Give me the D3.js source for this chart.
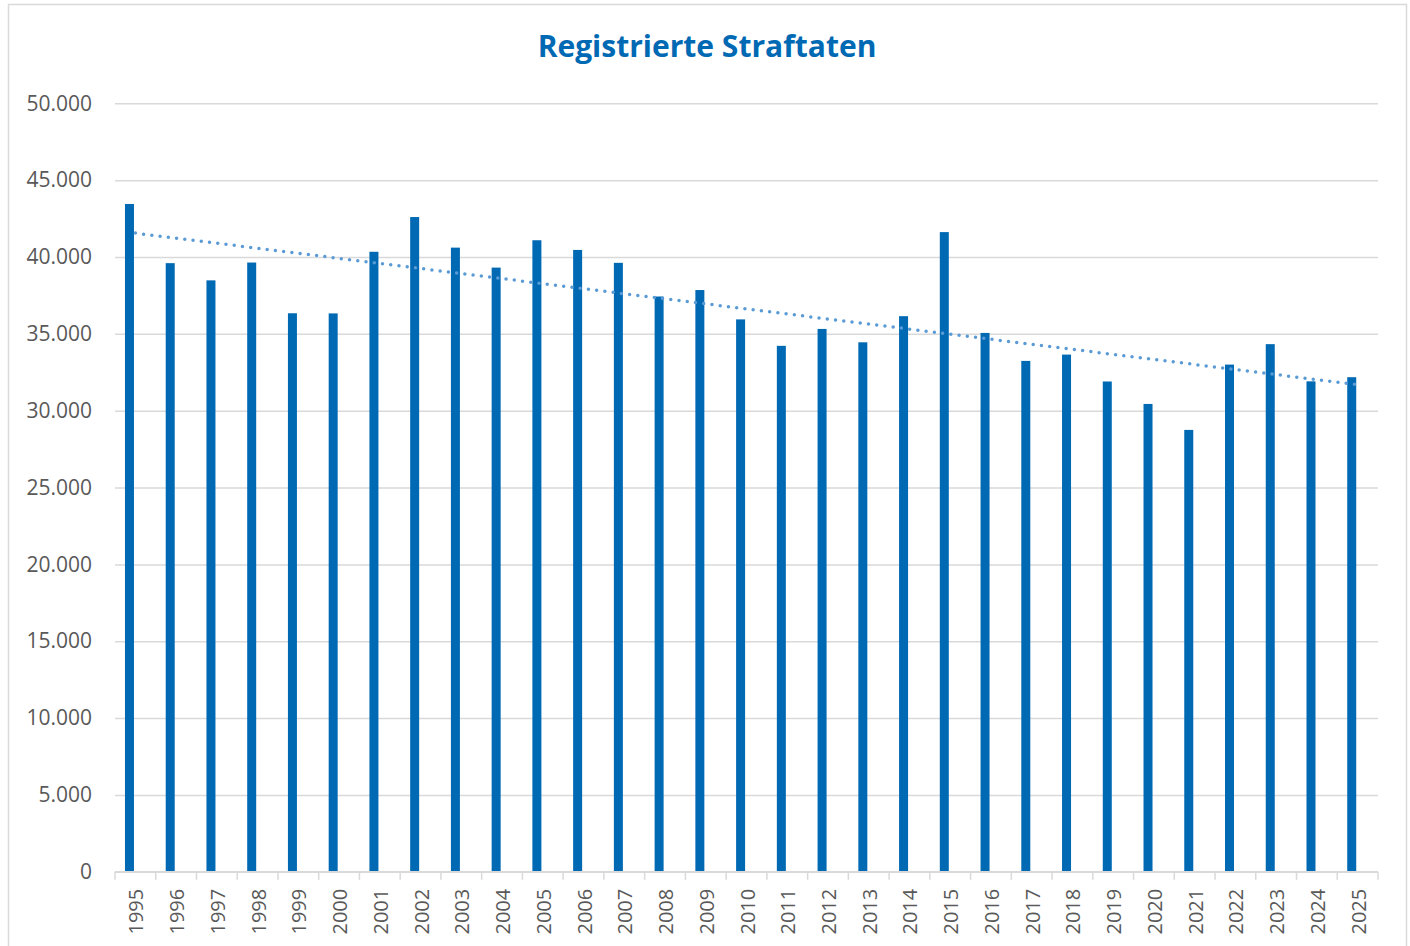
<!DOCTYPE html>
<html>
<head>
<meta charset="utf-8">
<script src="https://cdn.jsdelivr.net/npm/d3@7"></script>
<style>
  body { margin: 0; background: #fff; }
  svg { display: block; }
</style>
</head>
<body>
<figure style="margin:0"></figure>
<script>
const years = d3.range(1995, 2026).map(String);
const cases = [
  43450, 39600, 38480, 39640, 36340, 36330, 40340, 42600, 40610, 39310,
  41090, 40460, 39620, 37430, 37850, 35940, 34220, 35320, 34450, 36150,
  41620, 35060, 33240, 33650, 31900, 30440, 28750, 33000, 34330, 31910,
  32180,
];
const yTicks = [0, 5000, 10000, 15000, 20000, 25000, 30000, 35000, 40000, 45000, 50000];
const title = "Registrierte Straftaten";

const barColor = "#0069B4";
const trendColor = "#5B9BD5";
const gridColor = "#D9D9D9";
const labelColor = "#595959";

const de = d3.formatLocale({ decimal: ",", thousands: ".", grouping: [3], currency: ["", " €"] });
const fmt = de.format(",d");

const width = 1410;
const height = 946;
const margin = { top: 103.3, right: 32, bottom: 74.2, left: 115 };

const svg = d3
  .select("figure")
  .append("svg")
  .attr("width", width)
  .attr("height", height);

// chart frame
svg
  .append("rect")
  .attr("x", 8.5)
  .attr("y", 4.5)
  .attr("width", 1398)
  .attr("height", 960)
  .attr("fill", "#fff")
  .attr("stroke", gridColor)
  .attr("stroke-width", 1.5);

svg
  .append("text")
  .attr("x", 707)
  .attr("y", 57)
  .attr("text-anchor", "middle")
  .attr("font-family", "Open Sans")
  .attr("font-weight", "bold")
  .attr("font-size", 30)
  .attr("fill", barColor)
  .text(title);

const x = d3
  .scaleBand()
  .domain(years)
  .range([margin.left, width - margin.right]);

const y = d3
  .scaleLinear()
  .domain([0, 50000])
  .range([height - margin.bottom, margin.top]);

// gridlines + y labels
const yAxis = svg
  .append("g")
  .attr("transform", `translate(${margin.left},0)`)
  .call(
    d3
      .axisLeft(y)
      .tickValues(yTicks)
      .tickFormat(fmt)
      .tickSize(-(width - margin.left - margin.right))
      .tickPadding(23)
  );
yAxis.select(".domain").remove();
yAxis.selectAll(".tick line").attr("stroke", gridColor).attr("stroke-width", 1.5);
yAxis
  .selectAll(".tick text")
  .attr("font-family", "Open Sans")
  .attr("font-size", 21)
  .attr("fill", labelColor);

// bars, drawn left of the band centre like the original
const bw = x.bandwidth();
const barW = 9;
svg
  .append("g")
  .selectAll("rect")
  .data(years)
  .join("rect")
  .attr("x", (d) => x(d) + bw / 2 - barW - 1.4)
  .attr("y", (d, i) => y(cases[i]))
  .attr("width", barW)
  .attr("height", (d, i) => y(0) - y(cases[i]))
  .attr("fill", barColor);

// x axis line + boundary ticks
const xAxis = svg.append("g");
xAxis
  .append("line")
  .attr("x1", x.range()[0])
  .attr("x2", x.range()[1])
  .attr("y1", y(0))
  .attr("y2", y(0))
  .attr("stroke", gridColor)
  .attr("stroke-width", 1.5);
xAxis
  .selectAll("line.tick")
  .data([...years.map((d) => x(d)), x.range()[1]])
  .join("line")
  .attr("class", "tick")
  .attr("x1", (d) => d)
  .attr("x2", (d) => d)
  .attr("y1", y(0))
  .attr("y2", y(0) + 8)
  .attr("stroke", gridColor)
  .attr("stroke-width", 1.5);
xAxis
  .selectAll("text")
  .data(years)
  .join("text")
  .attr("transform", (d) => `translate(${x(d) + bw / 2 + 1},${y(0) + 17}) rotate(-90)`)
  .attr("text-anchor", "end")
  .attr("dy", "0.35em")
  .attr("font-family", "Open Sans")
  .attr("font-size", 20)
  .attr("fill", labelColor)
  .text((d) => d);

// linear trend (least squares over the series)
const idx = cases.map((_, i) => i);
const mx = d3.mean(idx);
const my = d3.mean(cases);
const slope =
  d3.sum(idx, (i) => (i - mx) * (cases[i] - my)) / d3.sum(idx, (i) => (i - mx) ** 2);
const intercept = my - slope * mx;
const trend = years.map((d, i) => [x(d) + bw / 2, y(intercept + slope * i)]);

svg
  .append("path")
  .datum(trend)
  .attr("d", d3.line())
  .attr("fill", "none")
  .attr("stroke", trendColor)
  .attr("stroke-width", 3.5)
  .attr("stroke-linecap", "round")
  .attr("stroke-dasharray", "0 8.3");
</script>
</body>
</html>
